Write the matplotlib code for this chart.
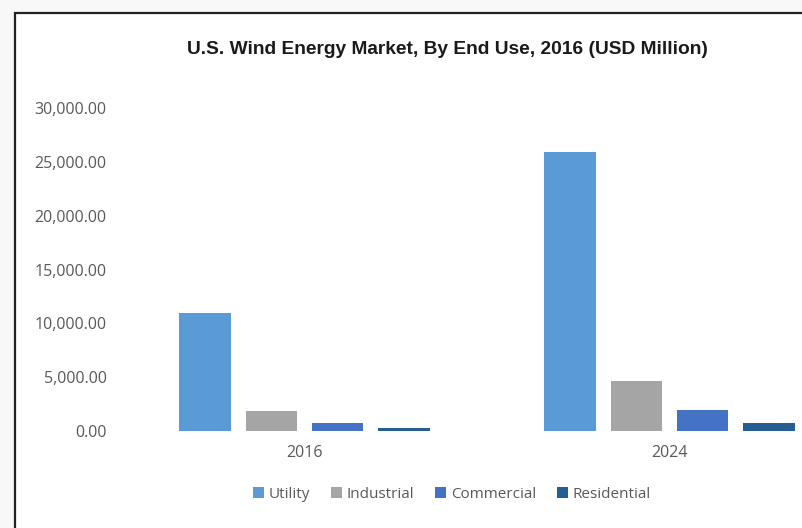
import matplotlib
matplotlib.use("Agg")
import matplotlib.pyplot as plt
from matplotlib.patches import Rectangle
import numpy as np

years = ["2016", "2024"]
segments = ["Utility", "Industrial", "Commercial", "Residential"]
utility = [11000, 25900]
industrial = [1850, 4650]
commercial = [750, 1950]
residential = [280, 750]
colors = ["#5B9BD5", "#A5A5A5", "#4472C4", "#255E91"]
yticks = [0, 5000, 10000, 15000, 20000, 25000, 30000]

series = [utility, industrial, commercial, residential]

fig = plt.figure(figsize=(8.03, 5.28), dpi=100)
fig.patch.set_facecolor("#f8f8f8")

# white chart area with a dark frame (runs past the right and bottom edges)
fig.add_artist(Rectangle((15 / 803, -0.1), 1.2, (528 - 13) / 528 + 0.1,
                         transform=fig.transFigure, facecolor="white",
                         edgecolor="#222222", linewidth=1.6, zorder=0))

ax = fig.add_axes([122 / 803, (528 - 431) / 528, 730 / 803, 323 / 528])
ax.set_facecolor("none")

x = np.arange(len(years))
width = 0.142
step = 0.181
for i, (vals, c, name) in enumerate(zip(series, colors, segments)):
    ax.bar(x + (i - 1.5) * step, vals, width=width, color=c, label=name)

ax.set_xlim(-0.5, 1.5)
ax.set_ylim(0, 30000)
ax.set_yticks(yticks)
ax.set_yticklabels([f"{v:,.2f}" for v in yticks])
ax.set_xticks(x)
ax.set_xticklabels(years)
for s in ax.spines.values():
    s.set_visible(False)
ax.tick_params(length=0, colors="#595959", labelsize=11.5)
ax.tick_params(axis="y", pad=11)
ax.tick_params(axis="x", pad=10)
for lbl in ax.get_xticklabels() + ax.get_yticklabels():
    lbl.set_fontfamily("Open Sans")

fig.text(447 / 803, 1 - 49 / 528,
         "U.S. Wind Energy Market, By End Use, 2016 (USD Million)",
         ha="center", va="center", fontsize=13.8, fontweight="bold",
         family="Liberation Sans", color="#1a1a1a")

leg = fig.legend(loc="center", bbox_to_anchor=(452 / 803, 1 - 494 / 528),
                 ncol=4, frameon=False, handlelength=0.7, handleheight=0.7,
                 handletextpad=0.3, columnspacing=1.4,
                 prop={"family": "Open Sans", "size": 11})
for t in leg.get_texts():
    t.set_color("#595959")

fig.savefig("out.png", dpi=100, facecolor=fig.get_facecolor())
